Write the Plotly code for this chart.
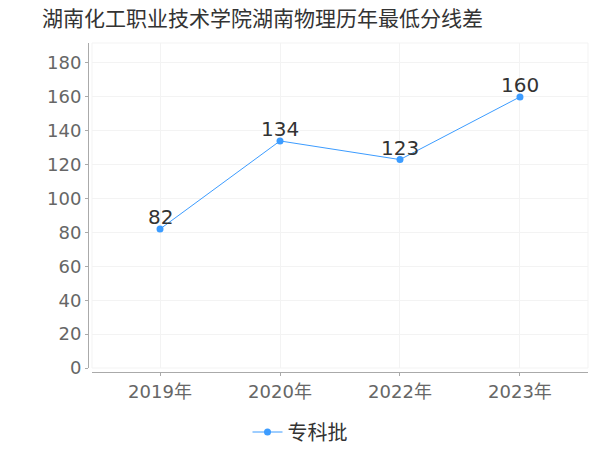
import plotly.graph_objects as go

years = ["2019年", "2020年", "2022年", "2023年"]
scores = [82, 134, 123, 160]
series_name = "专科批"
title_text = "湖南化工职业技术学院湖南物理历年最低分线差"

W, H = 600, 450
FONT = "DejaVu Sans, Noto Sans CJK SC, sans-serif"


def px_x(X):
    return X / W


def px_y(Y):
    return 1 - Y / H


fig = go.Figure()
fig.add_trace(go.Scatter(
    x=years, y=scores, name=series_name,
    mode="lines+markers",
    line=dict(color="#3c9cff", width=1),
    marker=dict(color="#3c9cff", size=7),
    showlegend=True,
))
for yr, v in zip(years, scores):
    fig.add_annotation(x=yr, y=v, text=str(v), showarrow=False,
                       yanchor="middle", xanchor="center", yshift=12,
                       font=dict(size=20, color="#333333", family=FONT))

xdom = [px_x(92), px_x(588)]
ydom = [px_y(368), px_y(43)]

fig.update_layout(
    width=W, height=H,
    margin=dict(l=0, r=0, t=0, b=0, autoexpand=False),
    paper_bgcolor="white", plot_bgcolor="white",
    font=dict(family=FONT, color="#666666"),
    title=dict(text=title_text, x=px_x(42), xanchor="left", y=px_y(19), yanchor="middle",
               font=dict(size=21, color="#333333", family="Noto Sans CJK SC, sans-serif")),
    xaxis=dict(
        type="category", domain=xdom, anchor="free", position=px_y(372),
        range=[-0.567, 3.567], automargin=False,
        showline=True, linecolor="#aaaaaa", linewidth=1,
        showgrid=True, gridcolor="#f3f3f3", gridwidth=1,
        ticks="outside", ticklen=3, tickcolor="#aaaaaa",
        tickfont=dict(size=18, color="#666666", family=FONT),
        zeroline=False,
    ),
    yaxis=dict(
        domain=ydom, anchor="free", position=px_x(88),
        range=[0, 191.8], tickvals=[0, 20, 40, 60, 80, 100, 120, 140, 160, 180],
        automargin=False,
        showline=True, linecolor="#aaaaaa", linewidth=1,
        showgrid=True, gridcolor="#f3f3f3", gridwidth=1,
        ticks="outside", ticklen=3, tickcolor="#aaaaaa",
        tickfont=dict(size=18, color="#666666", family=FONT),
        zeroline=False,
    ),
    legend=dict(orientation="h", x=px_x(300), xanchor="center", y=px_y(432), yanchor="middle",
                font=dict(size=20, color="#333333", family="Noto Sans CJK SC, sans-serif"),
                itemwidth=30),
    shapes=[dict(type="rect", xref="paper", yref="paper",
                 x0=xdom[0], x1=xdom[1], y0=ydom[0], y1=ydom[1],
                 line=dict(color="#f3f3f3", width=1), layer="below")],
)

fig.write_html("out.html", config={"displayModeBar": False},
               post_script="document.body.style.margin='0px';")
